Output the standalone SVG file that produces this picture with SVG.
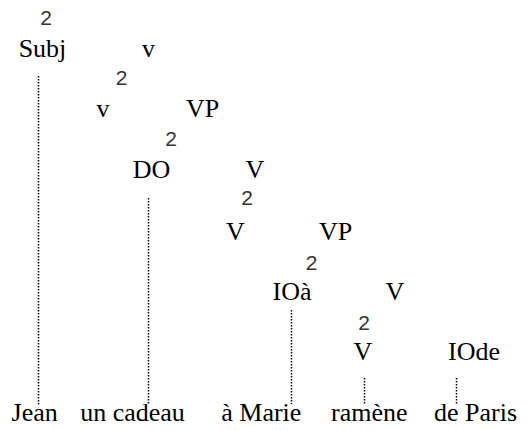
<svg xmlns="http://www.w3.org/2000/svg" width="528" height="430" viewBox="0 0 528 430">
<style>
  .lbl { font-family: "Liberation Serif", "Times New Roman", serif; font-size: 26px; fill: #000; text-anchor: middle; }
  .br { font-family: "Liberation Sans", Arial, sans-serif; font-size: 21px; fill: #333; text-anchor: middle; }
  .dot { stroke: #000; stroke-width: 1.5; stroke-dasharray: 1.5 1.5; fill: none; }
</style>
<rect width="528" height="430" fill="#fff"/>
<g id="connectors">
  <line class="dot" x1="38.5" y1="76" x2="38.5" y2="405"/>
  <line class="dot" x1="148.5" y1="198" x2="148.5" y2="405"/>
  <line class="dot" x1="291.5" y1="310" x2="291.5" y2="404"/>
  <line class="dot" x1="364.5" y1="378" x2="364.5" y2="404"/>
  <line class="dot" x1="456.5" y1="378" x2="456.5" y2="404"/>
</g>
<g id="branch1"><text class="br" x="46" y="24.5">2</text></g>
<g id="subj"><text class="lbl" x="42.5" y="57">Subj</text></g>
<g id="v-bar"><text class="lbl" x="148.5" y="57">v</text></g>
<g id="branch2"><text class="br" x="121.5" y="84.5">2</text></g>
<g id="v"><text class="lbl" x="103" y="117">v</text></g>
<g id="vp1"><text class="lbl" x="202.5" y="117">VP</text></g>
<g id="branch3"><text class="br" x="171" y="146">2</text></g>
<g id="do"><text class="lbl" x="151.5" y="178">DO</text></g>
<g id="v-bar1"><text class="lbl" x="255" y="178">V</text></g>
<g id="branch4"><text class="br" x="247" y="204.5">2</text></g>
<g id="v1"><text class="lbl" x="235.5" y="240">V</text></g>
<g id="vp2"><text class="lbl" x="335.5" y="240">VP</text></g>
<g id="branch5"><text class="br" x="311.5" y="269.5">2</text></g>
<g id="ioa"><text class="lbl" x="292" y="300">IOà</text></g>
<g id="v-bar2"><text class="lbl" x="395" y="300">V</text></g>
<g id="branch6"><text class="br" x="364" y="329.5">2</text></g>
<g id="v2"><text class="lbl" x="363" y="360">V</text></g>
<g id="iode"><text class="lbl" x="474" y="360">IOde</text></g>
<g id="jean"><text class="lbl" x="34.7" y="421">Jean</text></g>
<g id="cadeau"><text class="lbl" x="132.5" y="421">un cadeau</text></g>
<g id="marie"><text class="lbl" x="261.3" y="421">à Marie</text></g>
<g id="ramene"><text class="lbl" x="369.3" y="421">ramène</text></g>
<g id="paris"><text class="lbl" x="475.5" y="421">de Paris</text></g>
</svg>
